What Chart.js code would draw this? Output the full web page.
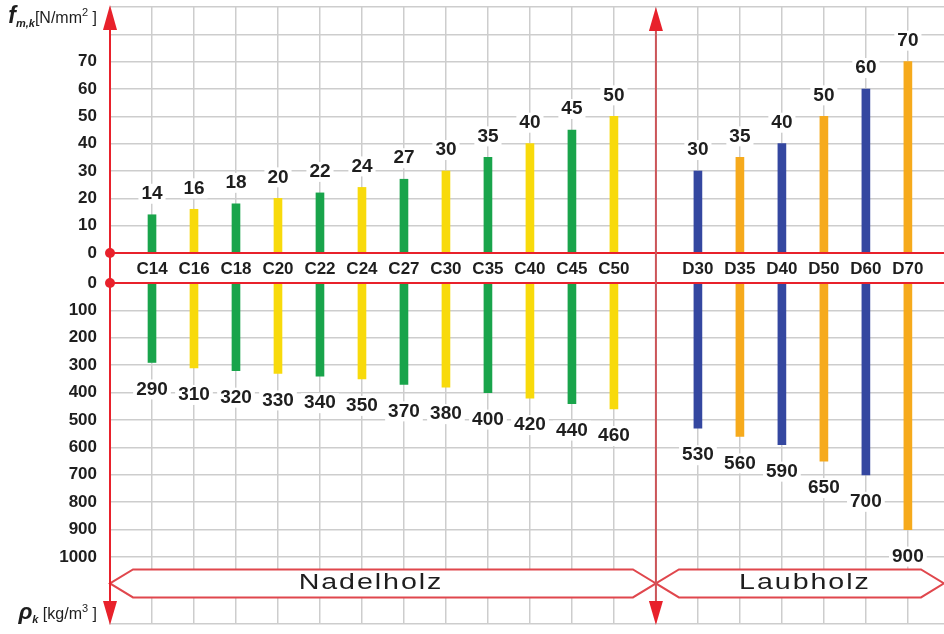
<!DOCTYPE html>
<html lang="de">
<head>
  <meta charset="UTF-8">
  <title>Festigkeitsklassen Holz</title>
  <script src="https://cdn.jsdelivr.net/npm/chart.js@4.4.1/dist/chart.umd.min.js"></script>
  <style>
    html, body { margin: 0; padding: 0; background: #fff; }
  </style>
</head>
<body>
<canvas id="myChart" width="944" height="634"></canvas>

<script>
  // Nadelholz (softwood) classes
  const softClasses = ["C14", "C16", "C18", "C20", "C22", "C24", "C27", "C30", "C35", "C40", "C45", "C50"];
  const softStrength = [14, 16, 18, 20, 22, 24, 27, 30, 35, 40, 45, 50];      // f_m,k [N/mm2]
  const softDensity = [290, 310, 320, 330, 340, 350, 370, 380, 400, 420, 440, 460]; // rho_k [kg/m3]

  // Laubholz (hardwood) classes
  const hardClasses = ["D30", "D35", "D40", "D50", "D60", "D70"];
  const hardStrength = [30, 35, 40, 50, 60, 70];
  const hardDensity = [530, 560, 590, 650, 700, 900];

  const strengthTicks = [0, 10, 20, 30, 40, 50, 60, 70];
  const densityTicks = [0, 100, 200, 300, 400, 500, 600, 700, 800, 900, 1000];
  const groupNames = ["Nadelholz", "Laubholz"];

  const green = "#19a44b", yellow = "#f8da0b", blue = "#3447a0", orange = "#f6aa1c";
  const red = "#e8212b", dullRed = "#cc5559", gridGray = "#cdcdcd", ink = "#1e1e1e";

  // slot positions on the x axis: softwood 1..12, gap at 13, hardwood 14..19
  const softX = softClasses.map((c, i) => i + 1);
  const hardX = hardClasses.map((c, i) => i + 14);
  const allX = softX.concat(hardX);
  const allNames = softClasses.concat(hardClasses);
  const allColors = softClasses.map((c, i) => i % 2 ? yellow : green)
    .concat(hardClasses.map((c, i) => i % 2 ? orange : blue));
  const topPoints = allX.map((x, i) => ({x: x, y: softStrength.concat(hardStrength)[i]}));
  const botPoints = allX.map((x, i) => ({x: x, y: softDensity.concat(hardDensity)[i]}));

  const tickFont = {family: "'Liberation Sans', Arial, sans-serif", size: 17, weight: "bold"};

  function labelBox(ctx, text, x, y) {
    const w = ctx.measureText(text).width;
    ctx.fillStyle = "#fff";
    ctx.fillRect(x - w / 2 - 3, y - 10, w + 6, 20);
    ctx.fillStyle = ink;
    ctx.fillText(text, x, y);
  }

  function arrow(ctx, x, tipY, baseY, color) {
    ctx.fillStyle = color;
    ctx.beginPath();
    ctx.moveTo(x, tipY);
    ctx.lineTo(x - 7, baseY);
    ctx.lineTo(x + 7, baseY);
    ctx.closePath();
    ctx.fill();
  }

  function banner(ctx, x0, x1, yc, h, inset) {
    ctx.beginPath();
    ctx.moveTo(x0, yc);
    ctx.lineTo(x0 + inset, yc - h / 2);
    ctx.lineTo(x1 - inset, yc - h / 2);
    ctx.lineTo(x1, yc);
    ctx.lineTo(x1 - inset, yc + h / 2);
    ctx.lineTo(x0 + inset, yc + h / 2);
    ctx.closePath();
    ctx.fillStyle = "#fff";
    ctx.fill();
    ctx.strokeStyle = "#e0474d";
    ctx.lineWidth = 2;
    ctx.stroke();
  }

  function wideText(ctx, text, cx, cy) {
    ctx.save();
    ctx.translate(cx, cy);
    ctx.scale(1.3, 1);
    ctx.font = "22px 'Liberation Sans', Arial, sans-serif";
    ctx.letterSpacing = "1.5px";
    ctx.textAlign = "center";
    ctx.textBaseline = "middle";
    ctx.fillStyle = ink;
    ctx.fillText(text, 0, 0);
    ctx.restore();
  }

  // pieces: [text, font, dy]; right aligned at xr
  function richText(ctx, pieces, xr, baseY) {
    let total = 0;
    pieces.forEach(p => { ctx.font = p[1]; total += ctx.measureText(p[0]).width; });
    let x = xr - total;
    ctx.textAlign = "left";
    ctx.textBaseline = "alphabetic";
    ctx.fillStyle = ink;
    pieces.forEach(p => {
      ctx.font = p[1];
      ctx.fillText(p[0], x, baseY + p[2]);
      x += ctx.measureText(p[0]).width;
    });
  }

  const decor = {
    id: "decor",
    afterDatasetsDraw(chart) {
      const ctx = chart.ctx;
      const area = chart.chartArea;
      const xs = chart.scales.x, yt = chart.scales.yTop, yb = chart.scales.yBot;
      const y0t = yt.getPixelForValue(0), y0b = yb.getPixelForValue(0);
      const xa = xs.getPixelForValue(0), xd = xs.getPixelForValue(13);

      ctx.save();
      // value labels
      ctx.font = "bold 19px 'Liberation Sans', Arial, sans-serif";
      ctx.textAlign = "center";
      ctx.textBaseline = "middle";
      chart.getDatasetMeta(0).data.forEach((bar, i) => {
        labelBox(ctx, String(topPoints[i].y), bar.x, bar.y - 21);
      });
      chart.getDatasetMeta(1).data.forEach((bar, i) => {
        labelBox(ctx, String(botPoints[i].y), bar.x, bar.y + 27);
      });

      // class names in the strip between the two zero lines
      ctx.font = "bold 17px 'Liberation Sans', Arial, sans-serif";
      ctx.fillStyle = "#fff";
      ctx.fillRect(xa + 2, y0t + 1, area.right - xa, y0b - y0t - 2);
      allNames.forEach((n, i) => {
        ctx.fillStyle = ink;
        ctx.fillText(n, xs.getPixelForValue(allX[i]), (y0t + y0b) / 2 + 1);
      });

      // banners
      const yc = yb.getPixelForValue(1100) - 1;
      banner(ctx, xa, xd, yc, 28, 23);
      banner(ctx, xd, area.right, yc, 28, 23);
      wideText(ctx, groupNames[0], xa + 261, yc);
      wideText(ctx, groupNames[1], xd + 149, yc);

      // zero lines
      ctx.strokeStyle = red;
      ctx.lineWidth = 2;
      ctx.beginPath();
      ctx.moveTo(xa, y0t); ctx.lineTo(area.right, y0t);
      ctx.moveTo(xa, y0b); ctx.lineTo(area.right, y0b);
      ctx.stroke();

      // divider between softwood and hardwood
      ctx.strokeStyle = dullRed;
      ctx.beginPath();
      ctx.moveTo(xd, area.top + 20); ctx.lineTo(xd, area.bottom - 20);
      ctx.stroke();
      arrow(ctx, xd, area.top, area.top + 24, red);
      arrow(ctx, xd, area.bottom + 1, area.bottom - 23, red);

      // main axis
      ctx.strokeStyle = red;
      ctx.beginPath();
      ctx.moveTo(xa, area.top + 20); ctx.lineTo(xa, area.bottom - 20);
      ctx.stroke();
      arrow(ctx, xa, area.top - 2, area.top + 23, red);
      arrow(ctx, xa, area.bottom + 1, area.bottom - 23, red);
      ctx.fillStyle = red;
      [y0t, y0b].forEach(y => {
        ctx.beginPath();
        ctx.arc(xa, y, 5, 0, Math.PI * 2);
        ctx.fill();
      });

      // axis titles
      richText(ctx, [
        ["f", "italic bold 23px 'Liberation Sans', Arial, sans-serif", 0],
        ["m,k", "italic bold 11px 'Liberation Sans', Arial, sans-serif", 4],
        ["[N/mm", "16px 'Liberation Sans', Arial, sans-serif", 0],
        ["2", "11px 'Liberation Sans', Arial, sans-serif", -7],
        [" ]", "16px 'Liberation Sans', Arial, sans-serif", 0]
      ], 97, 23);
      richText(ctx, [
        ["\u03c1", "italic bold 23px 'Liberation Sans', Arial, sans-serif", 0],
        ["k", "italic bold 11px 'Liberation Sans', Arial, sans-serif", 4],
        [" [kg/m", "16px 'Liberation Sans', Arial, sans-serif", 0],
        ["3", "11px 'Liberation Sans', Arial, sans-serif", -7],
        [" ]", "16px 'Liberation Sans', Arial, sans-serif", 0]
      ], 97, 619);
      ctx.restore();
    }
  };

  const hideZero = c => (c.tick && c.tick.value === 0) ? "rgba(0,0,0,0)" : gridGray;

  // both y axes sit at the left edge of the plot with zero width;
  // their labels are mirrored back out to the left (right aligned at x = 97)
  const yAxisFit = s => { s.width = 0; s.paddingTop = 0; s.paddingBottom = 0; };

  new Chart(document.getElementById("myChart"), {
    type: "bar",
    data: {
      datasets: [{
        data: topPoints,
        xAxisID: "x",
        yAxisID: "yTop",
        backgroundColor: allColors,
        barThickness: 8,
        grouped: false
      }, {
        data: botPoints,
        xAxisID: "x",
        yAxisID: "yBot",
        backgroundColor: allColors,
        barThickness: 8,
        grouped: false
      }]
    },
    options: {
      responsive: false,
      animation: false,
      layout: {padding: {top: 7, bottom: 10, left: 110, right: 0}},
      plugins: {legend: {display: false}, tooltip: {enabled: false}},
      scales: {
        x: {
          type: "linear",
          min: 0,
          max: 19.86,
          offset: false,
          afterBuildTicks: s => { s.ticks = Array.from({length: 20}, (v, i) => ({value: i})); },
          afterFit: s => { s.height = 0; s.paddingLeft = 0; s.paddingRight = 0; },
          ticks: {display: false},
          grid: {color: gridGray, lineWidth: 1.5, drawTicks: false, offset: false},
          border: {display: true, color: gridGray, width: 1.5}
        },
        yTop: {
          type: "linear",
          position: "left",
          weight: 2,
          min: -135.7,
          max: 90,
          afterBuildTicks: s => { s.ticks = strengthTicks.concat([80, 90]).map(v => ({value: v})); },
          afterFit: yAxisFit,
          ticks: {
            autoSkip: false,
            mirror: true,
            crossAlign: "far",
            padding: -31.9,
            color: ink,
            font: tickFont,
            callback: v => strengthTicks.includes(v) ? String(v) : ""
          },
          grid: {color: hideZero, lineWidth: 1.5, drawTicks: false},
          border: {display: false}
        },
        yBot: {
          type: "linear",
          position: "left",
          weight: 1,
          reverse: true,
          min: -1007.3,
          max: 1244.5,
          afterBuildTicks: s => { s.ticks = densityTicks.map(v => ({value: v})); },
          afterFit: yAxisFit,
          ticks: {
            autoSkip: false,
            mirror: true,
            crossAlign: "far",
            padding: -50.8,
            color: ink,
            font: tickFont,
            callback: v => String(v)
          },
          grid: {color: hideZero, lineWidth: 1.5, drawTicks: false},
          border: {display: false}
        }
      }
    },
    plugins: [decor]
  });
</script>
</body>
</html>
